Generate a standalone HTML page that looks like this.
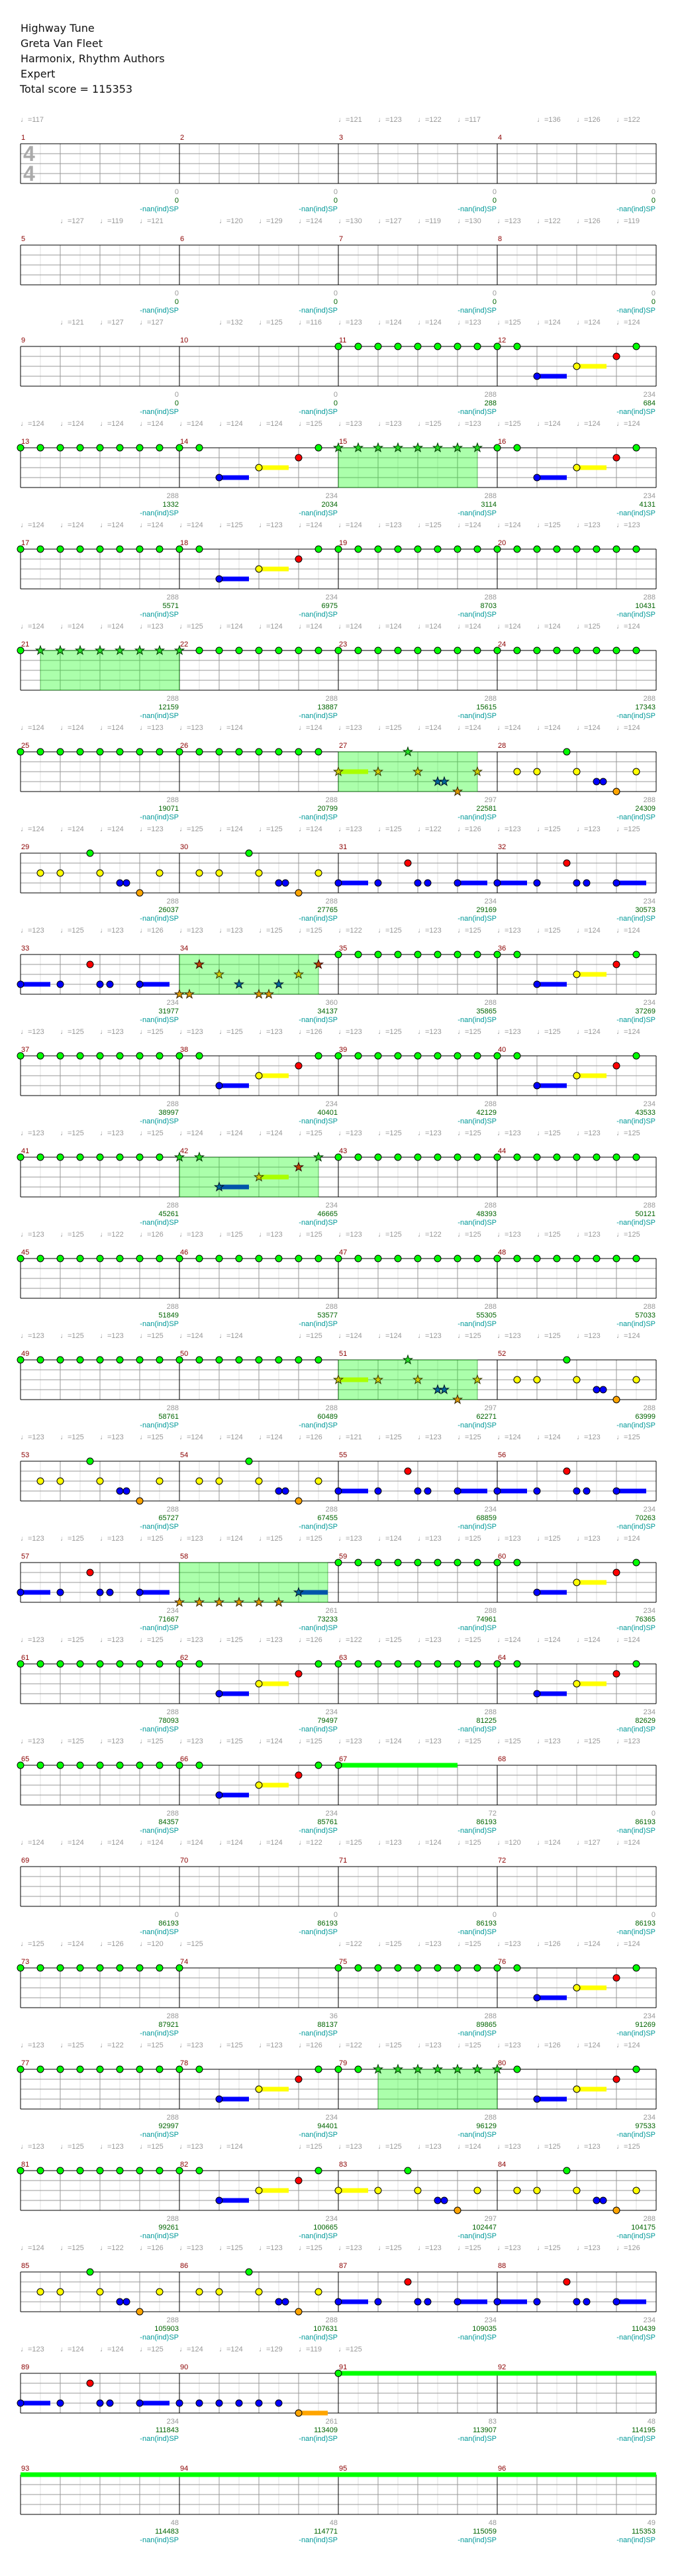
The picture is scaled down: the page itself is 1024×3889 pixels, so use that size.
<!DOCTYPE html>
<html><head><meta charset="utf-8"><style>
html,body{margin:0;padding:0;background:#fff}
svg{display:block}
.h{font:16px "DejaVu Sans","Liberation Sans",sans-serif;fill:#111}
.t{font:11px "Liberation Sans",sans-serif;fill:#999}
.m{font:11px "Liberation Sans",sans-serif;fill:#8b0000}
.l{font:11px "Liberation Sans",sans-serif;text-anchor:end}
.s1{fill:#999}.s2{fill:#006400}.s3{fill:#009999}
.sg{fill:#2d2;stroke:#030}.sy{fill:#cc0;stroke:#330}.sb{fill:#069;stroke:#012}.so{fill:#d90;stroke:#320}.sr{fill:#b40;stroke:#300}
.sp{fill:#0f0;fill-opacity:.33;stroke:#080;stroke-opacity:.5}
</style></head><body>
<svg width="1024" height="3889" viewBox="0 0 1024 3889" xmlns="http://www.w3.org/2000/svg">
<defs>
<g id="staff" shape-rendering="crispEdges" fill="none">
<path stroke="#e0e0e0" d="M61 0V60M121 0V60M181 0V60M241 0V60M301 0V60M361 0V60M421 0V60M481 0V60M541 0V60M601 0V60M661 0V60M721 0V60M781 0V60M841 0V60M901 0V60M961 0V60"/>
<path stroke="#999" d="M91 0V60M151 0V60M211 0V60M331 0V60M391 0V60M451 0V60M571 0V60M631 0V60M691 0V60M811 0V60M871 0V60M931 0V60M31 15H991M31 30H991M31 45H991"/>
<path stroke="#000" d="M31 0V60M271 0V60M511 0V60M751 0V60M991 0V60M31 0H991M31 60H991"/>
</g>
<circle id="ng" r="5" fill="#0f0" stroke="#000"/>
<circle id="nr" r="5" fill="#f00" stroke="#000"/>
<circle id="ny" r="5" fill="#ff0" stroke="#000"/>
<circle id="nb" r="5" fill="#00f" stroke="#000"/>
<circle id="no" r="5" fill="#ffa500" stroke="#000"/>
<path id="st" d="M0,-7L1.65,-2.27 6.66,-2.16 2.66,0.87 4.11,5.66 0,2.8 -4.11,5.66 -2.66,0.87 -6.66,-2.16 -1.65,-2.27Z"/>
<g id="A"><use href="#ng" x="0"/><use href="#ng" x="30"/><use href="#ng" x="60"/><use href="#ng" x="90"/><use href="#ng" x="120"/><use href="#ng" x="150"/><use href="#ng" x="180"/><use href="#ng" x="210"/></g>
<g id="Bx"><rect x="60" y="41.5" width="45" height="7" fill="#00f"/><rect x="120" y="26.5" width="45" height="7" fill="#ff0"/><use href="#ng" x="30"/><use href="#nb" x="60" y="45"/><use href="#ny" x="120" y="30"/><use href="#nr" x="180" y="15"/><use href="#ng" x="210"/></g>
<g id="B"><use href="#Bx"/><use href="#ng"/></g>
<g id="C"><use href="#ng" x="105"/><use href="#ny" x="30" y="30"/><use href="#ny" x="60" y="30"/><use href="#ny" x="120" y="30"/><use href="#ny" x="210" y="30"/><use href="#nb" x="150" y="45"/><use href="#nb" x="160" y="45"/><use href="#no" x="180" y="60"/></g>
<g id="C0"><rect x="0" y="26.5" width="45" height="7" fill="#ff0"/><use href="#ng" x="105"/><use href="#ny" x="0" y="30"/><use href="#ny" x="60" y="30"/><use href="#ny" x="120" y="30"/><use href="#ny" x="210" y="30"/><use href="#nb" x="150" y="45"/><use href="#nb" x="160" y="45"/><use href="#no" x="180" y="60"/></g>
<g id="D"><rect x="0" y="41.5" width="45" height="7" fill="#00f"/><rect x="180" y="41.5" width="45" height="7" fill="#00f"/><use href="#nb" x="0" y="45"/><use href="#nb" x="60" y="45"/><use href="#nb" x="120" y="45"/><use href="#nb" x="135" y="45"/><use href="#nb" x="180" y="45"/><use href="#nr" x="105" y="15"/></g>
<g id="S27"><rect class="sp" x="0" y="0" width="210" height="60"/><rect x="0" y="26.5" width="45" height="7" fill="#af0"/><use href="#st" class="sg" x="105" y="0"/><use href="#st" class="sy" x="0" y="30"/><use href="#st" class="sy" x="60" y="30"/><use href="#st" class="sy" x="120" y="30"/><use href="#st" class="sy" x="210" y="30"/><use href="#st" class="sb" x="150" y="45"/><use href="#st" class="sb" x="160" y="45"/><use href="#st" class="so" x="180" y="60"/></g>
</defs>

<text class="h" x="31" y="48">Highway Tune</text>
<text class="h" x="31" y="71">Greta Van Fleet</text>
<text class="h" x="31" y="94">Harmonix, Rhythm Authors</text>
<text class="h" x="31" y="117">Expert</text>
<text class="h" x="30" y="140">Total score = 115353</text>

<!-- Row 1 -->
<g transform="translate(0,217)"><use href="#staff"/>
<text x="35" y="26" font-family="Liberation Sans" font-weight="bold" font-size="32" fill="#aaa">4</text>
<text x="35" y="56" font-family="Liberation Sans" font-weight="bold" font-size="32" fill="#aaa">4</text>
<text class="t" y="-33"><tspan x="31">♩=117</tspan><tspan x="511">♩=121</tspan><tspan x="571">♩=123</tspan><tspan x="631">♩=122</tspan><tspan x="691">♩=117</tspan><tspan x="811">♩=136</tspan><tspan x="871">♩=126</tspan><tspan x="931">♩=122</tspan></text>
<text class="m" y="-6"><tspan x="32">1</tspan><tspan x="272">2</tspan><tspan x="512">3</tspan><tspan x="752">4</tspan></text>
<text class="l s1" y="76"><tspan x="270">0</tspan><tspan x="510">0</tspan><tspan x="750">0</tspan><tspan x="990">0</tspan></text>
<text class="l s2" y="89"><tspan x="270">0</tspan><tspan x="510">0</tspan><tspan x="750">0</tspan><tspan x="990">0</tspan></text>
<text class="l s3" y="102"><tspan x="270">-nan(ind)SP</tspan><tspan x="510">-nan(ind)SP</tspan><tspan x="750">-nan(ind)SP</tspan><tspan x="990">-nan(ind)SP</tspan></text>
</g>

<!-- Row 2 -->
<g transform="translate(0,370)"><use href="#staff"/>
<text class="t" y="-33"><tspan x="91">♩=127</tspan><tspan x="151">♩=119</tspan><tspan x="211">♩=121</tspan><tspan x="331">♩=120</tspan><tspan x="391">♩=129</tspan><tspan x="451">♩=124</tspan><tspan x="511">♩=130</tspan><tspan x="571">♩=127</tspan><tspan x="631">♩=119</tspan><tspan x="691">♩=130</tspan><tspan x="751">♩=123</tspan><tspan x="811">♩=122</tspan><tspan x="871">♩=126</tspan><tspan x="931">♩=119</tspan></text>
<text class="m" y="-6"><tspan x="32">5</tspan><tspan x="272">6</tspan><tspan x="512">7</tspan><tspan x="752">8</tspan></text>
<text class="l s1" y="76"><tspan x="270">0</tspan><tspan x="510">0</tspan><tspan x="750">0</tspan><tspan x="990">0</tspan></text>
<text class="l s2" y="89"><tspan x="270">0</tspan><tspan x="510">0</tspan><tspan x="750">0</tspan><tspan x="990">0</tspan></text>
<text class="l s3" y="102"><tspan x="270">-nan(ind)SP</tspan><tspan x="510">-nan(ind)SP</tspan><tspan x="750">-nan(ind)SP</tspan><tspan x="990">-nan(ind)SP</tspan></text>
</g>

<!-- Row 3 -->
<g transform="translate(0,523)"><use href="#staff"/>
<text class="t" y="-33"><tspan x="91">♩=121</tspan><tspan x="151">♩=127</tspan><tspan x="211">♩=127</tspan><tspan x="331">♩=132</tspan><tspan x="391">♩=125</tspan><tspan x="451">♩=116</tspan><tspan x="511">♩=123</tspan><tspan x="571">♩=124</tspan><tspan x="631">♩=124</tspan><tspan x="691">♩=123</tspan><tspan x="751">♩=125</tspan><tspan x="811">♩=124</tspan><tspan x="871">♩=124</tspan><tspan x="931">♩=124</tspan></text>
<text class="m" y="-6"><tspan x="32">9</tspan><tspan x="272">10</tspan><tspan x="512">11</tspan><tspan x="752">12</tspan></text>
<use href="#A" x="511"/><use href="#B" x="751"/>
<text class="l s1" y="76"><tspan x="270">0</tspan><tspan x="510">0</tspan><tspan x="750">288</tspan><tspan x="990">234</tspan></text>
<text class="l s2" y="89"><tspan x="270">0</tspan><tspan x="510">0</tspan><tspan x="750">288</tspan><tspan x="990">684</tspan></text>
<text class="l s3" y="102"><tspan x="270">-nan(ind)SP</tspan><tspan x="510">-nan(ind)SP</tspan><tspan x="750">-nan(ind)SP</tspan><tspan x="990">-nan(ind)SP</tspan></text>
</g>

<!-- Row 4 -->
<g transform="translate(0,676)"><use href="#staff"/>
<text class="t" y="-33"><tspan x="31">♩=124</tspan><tspan x="91">♩=124</tspan><tspan x="151">♩=124</tspan><tspan x="211">♩=124</tspan><tspan x="271">♩=124</tspan><tspan x="331">♩=124</tspan><tspan x="391">♩=124</tspan><tspan x="451">♩=125</tspan><tspan x="511">♩=123</tspan><tspan x="571">♩=123</tspan><tspan x="631">♩=125</tspan><tspan x="691">♩=123</tspan><tspan x="751">♩=125</tspan><tspan x="811">♩=124</tspan><tspan x="871">♩=124</tspan><tspan x="931">♩=124</tspan></text>
<text class="m" y="-6"><tspan x="32">13</tspan><tspan x="272">14</tspan><tspan x="512">15</tspan><tspan x="752">16</tspan></text>
<use href="#A" x="31"/><use href="#B" x="271"/>
<rect class="sp" x="511" y="0" width="210" height="60"/>
<use href="#st" class="sg" x="511"/><use href="#st" class="sg" x="541"/><use href="#st" class="sg" x="571"/><use href="#st" class="sg" x="601"/><use href="#st" class="sg" x="631"/><use href="#st" class="sg" x="661"/><use href="#st" class="sg" x="691"/><use href="#st" class="sg" x="721"/>
<use href="#B" x="751"/>
<text class="l s1" y="76"><tspan x="270">288</tspan><tspan x="510">234</tspan><tspan x="750">288</tspan><tspan x="990">234</tspan></text>
<text class="l s2" y="89"><tspan x="270">1332</tspan><tspan x="510">2034</tspan><tspan x="750">3114</tspan><tspan x="990">4131</tspan></text>
<text class="l s3" y="102"><tspan x="270">-nan(ind)SP</tspan><tspan x="510">-nan(ind)SP</tspan><tspan x="750">-nan(ind)SP</tspan><tspan x="990">-nan(ind)SP</tspan></text>
</g>

<!-- Row 5 -->
<g transform="translate(0,829)"><use href="#staff"/>
<text class="t" y="-33"><tspan x="31">♩=124</tspan><tspan x="91">♩=124</tspan><tspan x="151">♩=124</tspan><tspan x="211">♩=124</tspan><tspan x="271">♩=124</tspan><tspan x="331">♩=125</tspan><tspan x="391">♩=123</tspan><tspan x="451">♩=124</tspan><tspan x="511">♩=124</tspan><tspan x="571">♩=123</tspan><tspan x="631">♩=125</tspan><tspan x="691">♩=124</tspan><tspan x="751">♩=124</tspan><tspan x="811">♩=125</tspan><tspan x="871">♩=123</tspan><tspan x="931">♩=123</tspan></text>
<text class="m" y="-6"><tspan x="32">17</tspan><tspan x="272">18</tspan><tspan x="512">19</tspan><tspan x="752">20</tspan></text>
<use href="#A" x="31"/><use href="#B" x="271"/><use href="#A" x="511"/><use href="#A" x="751"/>
<text class="l s1" y="76"><tspan x="270">288</tspan><tspan x="510">234</tspan><tspan x="750">288</tspan><tspan x="990">288</tspan></text>
<text class="l s2" y="89"><tspan x="270">5571</tspan><tspan x="510">6975</tspan><tspan x="750">8703</tspan><tspan x="990">10431</tspan></text>
<text class="l s3" y="102"><tspan x="270">-nan(ind)SP</tspan><tspan x="510">-nan(ind)SP</tspan><tspan x="750">-nan(ind)SP</tspan><tspan x="990">-nan(ind)SP</tspan></text>
</g>

<!-- Row 6 -->
<g transform="translate(0,982)"><use href="#staff"/>
<text class="t" y="-33"><tspan x="31">♩=124</tspan><tspan x="91">♩=124</tspan><tspan x="151">♩=124</tspan><tspan x="211">♩=123</tspan><tspan x="271">♩=125</tspan><tspan x="331">♩=124</tspan><tspan x="391">♩=124</tspan><tspan x="451">♩=124</tspan><tspan x="511">♩=124</tspan><tspan x="571">♩=124</tspan><tspan x="631">♩=124</tspan><tspan x="691">♩=124</tspan><tspan x="751">♩=124</tspan><tspan x="811">♩=124</tspan><tspan x="871">♩=125</tspan><tspan x="931">♩=124</tspan></text>
<text class="m" y="-6"><tspan x="32">21</tspan><tspan x="272">22</tspan><tspan x="512">23</tspan><tspan x="752">24</tspan></text>
<use href="#ng" x="31"/>
<rect class="sp" x="61" y="0" width="210" height="60"/>
<use href="#st" class="sg" x="61"/><use href="#st" class="sg" x="91"/><use href="#st" class="sg" x="121"/><use href="#st" class="sg" x="151"/><use href="#st" class="sg" x="181"/><use href="#st" class="sg" x="211"/><use href="#st" class="sg" x="241"/><use href="#st" class="sg" x="271"/>
<use href="#ng" x="301"/><use href="#ng" x="331"/><use href="#ng" x="361"/><use href="#ng" x="391"/><use href="#ng" x="421"/><use href="#ng" x="451"/><use href="#ng" x="481"/>
<use href="#A" x="511"/><use href="#A" x="751"/>
<text class="l s1" y="76"><tspan x="270">288</tspan><tspan x="510">288</tspan><tspan x="750">288</tspan><tspan x="990">288</tspan></text>
<text class="l s2" y="89"><tspan x="270">12159</tspan><tspan x="510">13887</tspan><tspan x="750">15615</tspan><tspan x="990">17343</tspan></text>
<text class="l s3" y="102"><tspan x="270">-nan(ind)SP</tspan><tspan x="510">-nan(ind)SP</tspan><tspan x="750">-nan(ind)SP</tspan><tspan x="990">-nan(ind)SP</tspan></text>
</g>

<!-- Row 7 -->
<g transform="translate(0,1135)"><use href="#staff"/>
<text class="t" y="-33"><tspan x="31">♩=124</tspan><tspan x="91">♩=124</tspan><tspan x="151">♩=124</tspan><tspan x="211">♩=123</tspan><tspan x="271">♩=123</tspan><tspan x="331">♩=124</tspan><tspan x="451">♩=124</tspan><tspan x="511">♩=123</tspan><tspan x="571">♩=125</tspan><tspan x="631">♩=124</tspan><tspan x="691">♩=124</tspan><tspan x="751">♩=124</tspan><tspan x="811">♩=124</tspan><tspan x="871">♩=124</tspan><tspan x="931">♩=124</tspan></text>
<text class="m" y="-6"><tspan x="32">25</tspan><tspan x="272">26</tspan><tspan x="512">27</tspan><tspan x="752">28</tspan></text>
<use href="#A" x="31"/><use href="#A" x="271"/><use href="#S27" x="511"/><use href="#C" x="751"/>
<text class="l s1" y="76"><tspan x="270">288</tspan><tspan x="510">288</tspan><tspan x="750">297</tspan><tspan x="990">288</tspan></text>
<text class="l s2" y="89"><tspan x="270">19071</tspan><tspan x="510">20799</tspan><tspan x="750">22581</tspan><tspan x="990">24309</tspan></text>
<text class="l s3" y="102"><tspan x="270">-nan(ind)SP</tspan><tspan x="510">-nan(ind)SP</tspan><tspan x="750">-nan(ind)SP</tspan><tspan x="990">-nan(ind)SP</tspan></text>
</g>

<!-- Row 8 -->
<g transform="translate(0,1288)"><use href="#staff"/>
<text class="t" y="-33"><tspan x="31">♩=124</tspan><tspan x="91">♩=124</tspan><tspan x="151">♩=124</tspan><tspan x="211">♩=123</tspan><tspan x="271">♩=125</tspan><tspan x="331">♩=124</tspan><tspan x="391">♩=125</tspan><tspan x="451">♩=124</tspan><tspan x="511">♩=123</tspan><tspan x="571">♩=125</tspan><tspan x="631">♩=122</tspan><tspan x="691">♩=126</tspan><tspan x="751">♩=123</tspan><tspan x="811">♩=125</tspan><tspan x="871">♩=123</tspan><tspan x="931">♩=125</tspan></text>
<text class="m" y="-6"><tspan x="32">29</tspan><tspan x="272">30</tspan><tspan x="512">31</tspan><tspan x="752">32</tspan></text>
<use href="#C" x="31"/><use href="#C" x="271"/><use href="#D" x="511"/><use href="#D" x="751"/>
<text class="l s1" y="76"><tspan x="270">288</tspan><tspan x="510">288</tspan><tspan x="750">234</tspan><tspan x="990">234</tspan></text>
<text class="l s2" y="89"><tspan x="270">26037</tspan><tspan x="510">27765</tspan><tspan x="750">29169</tspan><tspan x="990">30573</tspan></text>
<text class="l s3" y="102"><tspan x="270">-nan(ind)SP</tspan><tspan x="510">-nan(ind)SP</tspan><tspan x="750">-nan(ind)SP</tspan><tspan x="990">-nan(ind)SP</tspan></text>
</g>

<!-- Row 9 -->
<g transform="translate(0,1441)"><use href="#staff"/>
<text class="t" y="-33"><tspan x="31">♩=123</tspan><tspan x="91">♩=125</tspan><tspan x="151">♩=123</tspan><tspan x="211">♩=126</tspan><tspan x="271">♩=123</tspan><tspan x="331">♩=123</tspan><tspan x="391">♩=125</tspan><tspan x="451">♩=125</tspan><tspan x="511">♩=122</tspan><tspan x="571">♩=125</tspan><tspan x="631">♩=123</tspan><tspan x="691">♩=125</tspan><tspan x="751">♩=123</tspan><tspan x="811">♩=125</tspan><tspan x="871">♩=124</tspan><tspan x="931">♩=124</tspan></text>
<text class="m" y="-6"><tspan x="32">33</tspan><tspan x="272">34</tspan><tspan x="512">35</tspan><tspan x="752">36</tspan></text>
<use href="#D" x="31"/>
<rect class="sp" x="271" y="0" width="210" height="60"/>
<use href="#st" class="sr" x="301" y="15"/><use href="#st" class="sy" x="331" y="30"/><use href="#st" class="sb" x="361" y="45"/><use href="#st" class="sb" x="421" y="45"/><use href="#st" class="sy" x="451" y="30"/><use href="#st" class="sr" x="481" y="15"/>
<use href="#st" class="so" x="271" y="60"/><use href="#st" class="so" x="286" y="60"/><use href="#st" class="so" x="391" y="60"/><use href="#st" class="so" x="406" y="60"/>
<use href="#A" x="511"/><use href="#B" x="751"/>
<text class="l s1" y="76"><tspan x="270">234</tspan><tspan x="510">360</tspan><tspan x="750">288</tspan><tspan x="990">234</tspan></text>
<text class="l s2" y="89"><tspan x="270">31977</tspan><tspan x="510">34137</tspan><tspan x="750">35865</tspan><tspan x="990">37269</tspan></text>
<text class="l s3" y="102"><tspan x="270">-nan(ind)SP</tspan><tspan x="510">-nan(ind)SP</tspan><tspan x="750">-nan(ind)SP</tspan><tspan x="990">-nan(ind)SP</tspan></text>
</g>

<!-- Row 10 -->
<g transform="translate(0,1594)"><use href="#staff"/>
<text class="t" y="-33"><tspan x="31">♩=123</tspan><tspan x="91">♩=125</tspan><tspan x="151">♩=123</tspan><tspan x="211">♩=125</tspan><tspan x="271">♩=123</tspan><tspan x="331">♩=125</tspan><tspan x="391">♩=123</tspan><tspan x="451">♩=126</tspan><tspan x="511">♩=123</tspan><tspan x="571">♩=125</tspan><tspan x="631">♩=123</tspan><tspan x="691">♩=125</tspan><tspan x="751">♩=123</tspan><tspan x="811">♩=125</tspan><tspan x="871">♩=124</tspan><tspan x="931">♩=124</tspan></text>
<text class="m" y="-6"><tspan x="32">37</tspan><tspan x="272">38</tspan><tspan x="512">39</tspan><tspan x="752">40</tspan></text>
<use href="#A" x="31"/><use href="#B" x="271"/><use href="#A" x="511"/><use href="#B" x="751"/>
<text class="l s1" y="76"><tspan x="270">288</tspan><tspan x="510">234</tspan><tspan x="750">288</tspan><tspan x="990">234</tspan></text>
<text class="l s2" y="89"><tspan x="270">38997</tspan><tspan x="510">40401</tspan><tspan x="750">42129</tspan><tspan x="990">43533</tspan></text>
<text class="l s3" y="102"><tspan x="270">-nan(ind)SP</tspan><tspan x="510">-nan(ind)SP</tspan><tspan x="750">-nan(ind)SP</tspan><tspan x="990">-nan(ind)SP</tspan></text>
</g>

<!-- Row 11 -->
<g transform="translate(0,1747)"><use href="#staff"/>
<text class="t" y="-33"><tspan x="31">♩=123</tspan><tspan x="91">♩=125</tspan><tspan x="151">♩=123</tspan><tspan x="211">♩=125</tspan><tspan x="271">♩=124</tspan><tspan x="331">♩=124</tspan><tspan x="391">♩=124</tspan><tspan x="451">♩=125</tspan><tspan x="511">♩=123</tspan><tspan x="571">♩=125</tspan><tspan x="631">♩=123</tspan><tspan x="691">♩=125</tspan><tspan x="751">♩=123</tspan><tspan x="811">♩=125</tspan><tspan x="871">♩=123</tspan><tspan x="931">♩=125</tspan></text>
<text class="m" y="-6"><tspan x="32">41</tspan><tspan x="272">42</tspan><tspan x="512">43</tspan><tspan x="752">44</tspan></text>
<use href="#A" x="31"/>
<rect class="sp" x="271" y="0" width="210" height="60"/>
<rect x="331" y="41.5" width="45" height="7" fill="#05a"/><rect x="391" y="26.5" width="45" height="7" fill="#af0"/>
<use href="#st" class="sg" x="271"/><use href="#st" class="sg" x="301"/><use href="#st" class="sg" x="481"/><use href="#st" class="sr" x="451" y="15"/><use href="#st" class="sy" x="391" y="30"/><use href="#st" class="sb" x="331" y="45"/>
<use href="#A" x="511"/><use href="#A" x="751"/>
<text class="l s1" y="76"><tspan x="270">288</tspan><tspan x="510">234</tspan><tspan x="750">288</tspan><tspan x="990">288</tspan></text>
<text class="l s2" y="89"><tspan x="270">45261</tspan><tspan x="510">46665</tspan><tspan x="750">48393</tspan><tspan x="990">50121</tspan></text>
<text class="l s3" y="102"><tspan x="270">-nan(ind)SP</tspan><tspan x="510">-nan(ind)SP</tspan><tspan x="750">-nan(ind)SP</tspan><tspan x="990">-nan(ind)SP</tspan></text>
</g>

<!-- Row 12 -->
<g transform="translate(0,1900)"><use href="#staff"/>
<text class="t" y="-33"><tspan x="31">♩=123</tspan><tspan x="91">♩=125</tspan><tspan x="151">♩=122</tspan><tspan x="211">♩=126</tspan><tspan x="271">♩=123</tspan><tspan x="331">♩=125</tspan><tspan x="391">♩=123</tspan><tspan x="451">♩=125</tspan><tspan x="511">♩=123</tspan><tspan x="571">♩=125</tspan><tspan x="631">♩=122</tspan><tspan x="691">♩=125</tspan><tspan x="751">♩=123</tspan><tspan x="811">♩=125</tspan><tspan x="871">♩=123</tspan><tspan x="931">♩=125</tspan></text>
<text class="m" y="-6"><tspan x="32">45</tspan><tspan x="272">46</tspan><tspan x="512">47</tspan><tspan x="752">48</tspan></text>
<use href="#A" x="31"/><use href="#A" x="271"/><use href="#A" x="511"/><use href="#A" x="751"/>
<text class="l s1" y="76"><tspan x="270">288</tspan><tspan x="510">288</tspan><tspan x="750">288</tspan><tspan x="990">288</tspan></text>
<text class="l s2" y="89"><tspan x="270">51849</tspan><tspan x="510">53577</tspan><tspan x="750">55305</tspan><tspan x="990">57033</tspan></text>
<text class="l s3" y="102"><tspan x="270">-nan(ind)SP</tspan><tspan x="510">-nan(ind)SP</tspan><tspan x="750">-nan(ind)SP</tspan><tspan x="990">-nan(ind)SP</tspan></text>
</g>

<!-- Row 13 -->
<g transform="translate(0,2053)"><use href="#staff"/>
<text class="t" y="-33"><tspan x="31">♩=123</tspan><tspan x="91">♩=125</tspan><tspan x="151">♩=123</tspan><tspan x="211">♩=125</tspan><tspan x="271">♩=124</tspan><tspan x="331">♩=124</tspan><tspan x="451">♩=125</tspan><tspan x="511">♩=124</tspan><tspan x="571">♩=124</tspan><tspan x="631">♩=123</tspan><tspan x="691">♩=125</tspan><tspan x="751">♩=123</tspan><tspan x="811">♩=125</tspan><tspan x="871">♩=123</tspan><tspan x="931">♩=124</tspan></text>
<text class="m" y="-6"><tspan x="32">49</tspan><tspan x="272">50</tspan><tspan x="512">51</tspan><tspan x="752">52</tspan></text>
<use href="#A" x="31"/><use href="#A" x="271"/><use href="#S27" x="511"/><use href="#C" x="751"/>
<text class="l s1" y="76"><tspan x="270">288</tspan><tspan x="510">288</tspan><tspan x="750">297</tspan><tspan x="990">288</tspan></text>
<text class="l s2" y="89"><tspan x="270">58761</tspan><tspan x="510">60489</tspan><tspan x="750">62271</tspan><tspan x="990">63999</tspan></text>
<text class="l s3" y="102"><tspan x="270">-nan(ind)SP</tspan><tspan x="510">-nan(ind)SP</tspan><tspan x="750">-nan(ind)SP</tspan><tspan x="990">-nan(ind)SP</tspan></text>
</g>

<!-- Row 14 -->
<g transform="translate(0,2206)"><use href="#staff"/>
<text class="t" y="-33"><tspan x="31">♩=123</tspan><tspan x="91">♩=125</tspan><tspan x="151">♩=123</tspan><tspan x="211">♩=125</tspan><tspan x="271">♩=124</tspan><tspan x="331">♩=124</tspan><tspan x="391">♩=124</tspan><tspan x="451">♩=126</tspan><tspan x="511">♩=121</tspan><tspan x="571">♩=125</tspan><tspan x="631">♩=123</tspan><tspan x="691">♩=125</tspan><tspan x="751">♩=124</tspan><tspan x="811">♩=124</tspan><tspan x="871">♩=123</tspan><tspan x="931">♩=125</tspan></text>
<text class="m" y="-6"><tspan x="32">53</tspan><tspan x="272">54</tspan><tspan x="512">55</tspan><tspan x="752">56</tspan></text>
<use href="#C" x="31"/><use href="#C" x="271"/><use href="#D" x="511"/><use href="#D" x="751"/>
<text class="l s1" y="76"><tspan x="270">288</tspan><tspan x="510">288</tspan><tspan x="750">234</tspan><tspan x="990">234</tspan></text>
<text class="l s2" y="89"><tspan x="270">65727</tspan><tspan x="510">67455</tspan><tspan x="750">68859</tspan><tspan x="990">70263</tspan></text>
<text class="l s3" y="102"><tspan x="270">-nan(ind)SP</tspan><tspan x="510">-nan(ind)SP</tspan><tspan x="750">-nan(ind)SP</tspan><tspan x="990">-nan(ind)SP</tspan></text>
</g>

<!-- Row 15 -->
<g transform="translate(0,2359)"><use href="#staff"/>
<text class="t" y="-33"><tspan x="31">♩=123</tspan><tspan x="91">♩=125</tspan><tspan x="151">♩=123</tspan><tspan x="211">♩=125</tspan><tspan x="271">♩=123</tspan><tspan x="331">♩=124</tspan><tspan x="391">♩=125</tspan><tspan x="451">♩=125</tspan><tspan x="511">♩=123</tspan><tspan x="571">♩=124</tspan><tspan x="631">♩=123</tspan><tspan x="691">♩=125</tspan><tspan x="751">♩=123</tspan><tspan x="811">♩=125</tspan><tspan x="871">♩=123</tspan><tspan x="931">♩=124</tspan></text>
<text class="m" y="-6"><tspan x="32">57</tspan><tspan x="272">58</tspan><tspan x="512">59</tspan><tspan x="752">60</tspan></text>
<use href="#D" x="31"/>
<rect class="sp" x="271" y="0" width="224" height="60"/>
<rect x="451" y="41.5" width="44" height="7" fill="#05a"/>
<use href="#st" class="so" x="271" y="60"/><use href="#st" class="so" x="301" y="60"/><use href="#st" class="so" x="331" y="60"/><use href="#st" class="so" x="361" y="60"/><use href="#st" class="so" x="391" y="60"/><use href="#st" class="so" x="421" y="60"/><use href="#st" class="sb" x="451" y="45"/>
<use href="#A" x="511"/><use href="#B" x="751"/>
<text class="l s1" y="76"><tspan x="270">234</tspan><tspan x="510">261</tspan><tspan x="750">288</tspan><tspan x="990">234</tspan></text>
<text class="l s2" y="89"><tspan x="270">71667</tspan><tspan x="510">73233</tspan><tspan x="750">74961</tspan><tspan x="990">76365</tspan></text>
<text class="l s3" y="102"><tspan x="270">-nan(ind)SP</tspan><tspan x="510">-nan(ind)SP</tspan><tspan x="750">-nan(ind)SP</tspan><tspan x="990">-nan(ind)SP</tspan></text>
</g>

<!-- Row 16 -->
<g transform="translate(0,2512)"><use href="#staff"/>
<text class="t" y="-33"><tspan x="31">♩=123</tspan><tspan x="91">♩=125</tspan><tspan x="151">♩=123</tspan><tspan x="211">♩=125</tspan><tspan x="271">♩=123</tspan><tspan x="331">♩=125</tspan><tspan x="391">♩=123</tspan><tspan x="451">♩=126</tspan><tspan x="511">♩=122</tspan><tspan x="571">♩=125</tspan><tspan x="631">♩=123</tspan><tspan x="691">♩=125</tspan><tspan x="751">♩=124</tspan><tspan x="811">♩=124</tspan><tspan x="871">♩=124</tspan><tspan x="931">♩=124</tspan></text>
<text class="m" y="-6"><tspan x="32">61</tspan><tspan x="272">62</tspan><tspan x="512">63</tspan><tspan x="752">64</tspan></text>
<use href="#A" x="31"/><use href="#B" x="271"/><use href="#A" x="511"/><use href="#B" x="751"/>
<text class="l s1" y="76"><tspan x="270">288</tspan><tspan x="510">234</tspan><tspan x="750">288</tspan><tspan x="990">234</tspan></text>
<text class="l s2" y="89"><tspan x="270">78093</tspan><tspan x="510">79497</tspan><tspan x="750">81225</tspan><tspan x="990">82629</tspan></text>
<text class="l s3" y="102"><tspan x="270">-nan(ind)SP</tspan><tspan x="510">-nan(ind)SP</tspan><tspan x="750">-nan(ind)SP</tspan><tspan x="990">-nan(ind)SP</tspan></text>
</g>

<!-- Row 17 -->
<g transform="translate(0,2665)"><use href="#staff"/>
<text class="t" y="-33"><tspan x="31">♩=123</tspan><tspan x="91">♩=125</tspan><tspan x="151">♩=123</tspan><tspan x="211">♩=125</tspan><tspan x="271">♩=123</tspan><tspan x="331">♩=125</tspan><tspan x="391">♩=124</tspan><tspan x="451">♩=125</tspan><tspan x="511">♩=123</tspan><tspan x="571">♩=124</tspan><tspan x="631">♩=123</tspan><tspan x="691">♩=125</tspan><tspan x="751">♩=125</tspan><tspan x="811">♩=123</tspan><tspan x="871">♩=125</tspan><tspan x="931">♩=123</tspan></text>
<text class="m" y="-6"><tspan x="32">65</tspan><tspan x="272">66</tspan><tspan x="512">67</tspan><tspan x="752">68</tspan></text>
<use href="#A" x="31"/><use href="#B" x="271"/>
<rect x="511" y="-3.5" width="180" height="7" fill="#0f0"/><use href="#ng" x="511"/>
<text class="l s1" y="76"><tspan x="270">288</tspan><tspan x="510">234</tspan><tspan x="750">72</tspan><tspan x="990">0</tspan></text>
<text class="l s2" y="89"><tspan x="270">84357</tspan><tspan x="510">85761</tspan><tspan x="750">86193</tspan><tspan x="990">86193</tspan></text>
<text class="l s3" y="102"><tspan x="270">-nan(ind)SP</tspan><tspan x="510">-nan(ind)SP</tspan><tspan x="750">-nan(ind)SP</tspan><tspan x="990">-nan(ind)SP</tspan></text>
</g>

<!-- Row 18 -->
<g transform="translate(0,2818)"><use href="#staff"/>
<text class="t" y="-33"><tspan x="31">♩=124</tspan><tspan x="91">♩=124</tspan><tspan x="151">♩=124</tspan><tspan x="211">♩=124</tspan><tspan x="271">♩=124</tspan><tspan x="331">♩=124</tspan><tspan x="391">♩=124</tspan><tspan x="451">♩=122</tspan><tspan x="511">♩=125</tspan><tspan x="571">♩=123</tspan><tspan x="631">♩=124</tspan><tspan x="691">♩=125</tspan><tspan x="751">♩=120</tspan><tspan x="811">♩=124</tspan><tspan x="871">♩=127</tspan><tspan x="931">♩=124</tspan></text>
<text class="m" y="-6"><tspan x="32">69</tspan><tspan x="272">70</tspan><tspan x="512">71</tspan><tspan x="752">72</tspan></text>
<text class="l s1" y="76"><tspan x="270">0</tspan><tspan x="510">0</tspan><tspan x="750">0</tspan><tspan x="990">0</tspan></text>
<text class="l s2" y="89"><tspan x="270">86193</tspan><tspan x="510">86193</tspan><tspan x="750">86193</tspan><tspan x="990">86193</tspan></text>
<text class="l s3" y="102"><tspan x="270">-nan(ind)SP</tspan><tspan x="510">-nan(ind)SP</tspan><tspan x="750">-nan(ind)SP</tspan><tspan x="990">-nan(ind)SP</tspan></text>
</g>

<!-- Row 19 -->
<g transform="translate(0,2971)"><use href="#staff"/>
<text class="t" y="-33"><tspan x="31">♩=125</tspan><tspan x="91">♩=124</tspan><tspan x="151">♩=126</tspan><tspan x="211">♩=120</tspan><tspan x="271">♩=125</tspan><tspan x="511">♩=122</tspan><tspan x="571">♩=125</tspan><tspan x="631">♩=123</tspan><tspan x="691">♩=125</tspan><tspan x="751">♩=123</tspan><tspan x="811">♩=126</tspan><tspan x="871">♩=124</tspan><tspan x="931">♩=124</tspan></text>
<text class="m" y="-6"><tspan x="32">73</tspan><tspan x="272">74</tspan><tspan x="512">75</tspan><tspan x="752">76</tspan></text>
<use href="#A" x="31"/><use href="#ng" x="271"/><use href="#A" x="511"/><use href="#B" x="751"/>
<text class="l s1" y="76"><tspan x="270">288</tspan><tspan x="510">36</tspan><tspan x="750">288</tspan><tspan x="990">234</tspan></text>
<text class="l s2" y="89"><tspan x="270">87921</tspan><tspan x="510">88137</tspan><tspan x="750">89865</tspan><tspan x="990">91269</tspan></text>
<text class="l s3" y="102"><tspan x="270">-nan(ind)SP</tspan><tspan x="510">-nan(ind)SP</tspan><tspan x="750">-nan(ind)SP</tspan><tspan x="990">-nan(ind)SP</tspan></text>
</g>

<!-- Row 20 -->
<g transform="translate(0,3124)"><use href="#staff"/>
<text class="t" y="-33"><tspan x="31">♩=123</tspan><tspan x="91">♩=125</tspan><tspan x="151">♩=122</tspan><tspan x="211">♩=125</tspan><tspan x="271">♩=123</tspan><tspan x="331">♩=125</tspan><tspan x="391">♩=123</tspan><tspan x="451">♩=126</tspan><tspan x="511">♩=122</tspan><tspan x="571">♩=125</tspan><tspan x="631">♩=123</tspan><tspan x="691">♩=125</tspan><tspan x="751">♩=123</tspan><tspan x="811">♩=126</tspan><tspan x="871">♩=124</tspan><tspan x="931">♩=124</tspan></text>
<text class="m" y="-6"><tspan x="32">77</tspan><tspan x="272">78</tspan><tspan x="512">79</tspan><tspan x="752">80</tspan></text>
<use href="#A" x="31"/><use href="#B" x="271"/>
<use href="#ng" x="511"/><use href="#ng" x="541"/>
<rect class="sp" x="571" y="0" width="180" height="60"/>
<use href="#st" class="sg" x="571"/><use href="#st" class="sg" x="601"/><use href="#st" class="sg" x="631"/><use href="#st" class="sg" x="661"/><use href="#st" class="sg" x="691"/><use href="#st" class="sg" x="721"/><use href="#st" class="sg" x="751"/>
<use href="#Bx" x="751"/>
<text class="l s1" y="76"><tspan x="270">288</tspan><tspan x="510">234</tspan><tspan x="750">288</tspan><tspan x="990">234</tspan></text>
<text class="l s2" y="89"><tspan x="270">92997</tspan><tspan x="510">94401</tspan><tspan x="750">96129</tspan><tspan x="990">97533</tspan></text>
<text class="l s3" y="102"><tspan x="270">-nan(ind)SP</tspan><tspan x="510">-nan(ind)SP</tspan><tspan x="750">-nan(ind)SP</tspan><tspan x="990">-nan(ind)SP</tspan></text>
</g>

<!-- Row 21 -->
<g transform="translate(0,3277)"><use href="#staff"/>
<text class="t" y="-33"><tspan x="31">♩=123</tspan><tspan x="91">♩=125</tspan><tspan x="151">♩=123</tspan><tspan x="211">♩=125</tspan><tspan x="271">♩=123</tspan><tspan x="331">♩=124</tspan><tspan x="451">♩=125</tspan><tspan x="511">♩=123</tspan><tspan x="571">♩=125</tspan><tspan x="631">♩=123</tspan><tspan x="691">♩=124</tspan><tspan x="751">♩=123</tspan><tspan x="811">♩=125</tspan><tspan x="871">♩=123</tspan><tspan x="931">♩=125</tspan></text>
<text class="m" y="-6"><tspan x="32">81</tspan><tspan x="272">82</tspan><tspan x="512">83</tspan><tspan x="752">84</tspan></text>
<use href="#A" x="31"/><use href="#B" x="271"/><use href="#C0" x="511"/><use href="#C" x="751"/>
<text class="l s1" y="76"><tspan x="270">288</tspan><tspan x="510">234</tspan><tspan x="750">297</tspan><tspan x="990">288</tspan></text>
<text class="l s2" y="89"><tspan x="270">99261</tspan><tspan x="510">100665</tspan><tspan x="750">102447</tspan><tspan x="990">104175</tspan></text>
<text class="l s3" y="102"><tspan x="270">-nan(ind)SP</tspan><tspan x="510">-nan(ind)SP</tspan><tspan x="750">-nan(ind)SP</tspan><tspan x="990">-nan(ind)SP</tspan></text>
</g>

<!-- Row 22 -->
<g transform="translate(0,3430)"><use href="#staff"/>
<text class="t" y="-33"><tspan x="31">♩=124</tspan><tspan x="91">♩=125</tspan><tspan x="151">♩=122</tspan><tspan x="211">♩=126</tspan><tspan x="271">♩=123</tspan><tspan x="331">♩=125</tspan><tspan x="391">♩=123</tspan><tspan x="451">♩=125</tspan><tspan x="511">♩=123</tspan><tspan x="571">♩=125</tspan><tspan x="631">♩=123</tspan><tspan x="691">♩=125</tspan><tspan x="751">♩=123</tspan><tspan x="811">♩=125</tspan><tspan x="871">♩=123</tspan><tspan x="931">♩=126</tspan></text>
<text class="m" y="-6"><tspan x="32">85</tspan><tspan x="272">86</tspan><tspan x="512">87</tspan><tspan x="752">88</tspan></text>
<use href="#C" x="31"/><use href="#C" x="271"/><use href="#D" x="511"/><use href="#D" x="751"/>
<text class="l s1" y="76"><tspan x="270">288</tspan><tspan x="510">288</tspan><tspan x="750">234</tspan><tspan x="990">234</tspan></text>
<text class="l s2" y="89"><tspan x="270">105903</tspan><tspan x="510">107631</tspan><tspan x="750">109035</tspan><tspan x="990">110439</tspan></text>
<text class="l s3" y="102"><tspan x="270">-nan(ind)SP</tspan><tspan x="510">-nan(ind)SP</tspan><tspan x="750">-nan(ind)SP</tspan><tspan x="990">-nan(ind)SP</tspan></text>
</g>

<!-- Row 23 -->
<g transform="translate(0,3583)"><use href="#staff"/>
<text class="t" y="-33"><tspan x="31">♩=123</tspan><tspan x="91">♩=124</tspan><tspan x="151">♩=124</tspan><tspan x="211">♩=125</tspan><tspan x="271">♩=124</tspan><tspan x="331">♩=124</tspan><tspan x="391">♩=129</tspan><tspan x="451">♩=119</tspan><tspan x="511">♩=125</tspan></text>
<text class="m" y="-6"><tspan x="32">89</tspan><tspan x="272">90</tspan><tspan x="512">91</tspan><tspan x="752">92</tspan></text>
<use href="#D" x="31"/>
<use href="#nb" x="271" y="45"/><use href="#nb" x="301" y="45"/><use href="#nb" x="331" y="45"/><use href="#nb" x="361" y="45"/><use href="#nb" x="391" y="45"/><use href="#nb" x="421" y="45"/>
<rect x="451" y="56.5" width="44" height="7" fill="#ffa500"/><use href="#no" x="451" y="60"/>
<rect x="511" y="-3.5" width="480" height="7" fill="#0f0"/><use href="#ng" x="511"/>
<text class="l s1" y="76"><tspan x="270">234</tspan><tspan x="510">261</tspan><tspan x="750">83</tspan><tspan x="990">48</tspan></text>
<text class="l s2" y="89"><tspan x="270">111843</tspan><tspan x="510">113409</tspan><tspan x="750">113907</tspan><tspan x="990">114195</tspan></text>
<text class="l s3" y="102"><tspan x="270">-nan(ind)SP</tspan><tspan x="510">-nan(ind)SP</tspan><tspan x="750">-nan(ind)SP</tspan><tspan x="990">-nan(ind)SP</tspan></text>
</g>

<!-- Row 24 -->
<g transform="translate(0,3736)"><use href="#staff"/>
<text class="m" y="-6"><tspan x="32">93</tspan><tspan x="272">94</tspan><tspan x="512">95</tspan><tspan x="752">96</tspan></text>
<rect x="31" y="-3.5" width="960" height="7" fill="#0f0"/>
<text class="l s1" y="76"><tspan x="270">48</tspan><tspan x="510">48</tspan><tspan x="750">48</tspan><tspan x="990">49</tspan></text>
<text class="l s2" y="89"><tspan x="270">114483</tspan><tspan x="510">114771</tspan><tspan x="750">115059</tspan><tspan x="990">115353</tspan></text>
<text class="l s3" y="102"><tspan x="270">-nan(ind)SP</tspan><tspan x="510">-nan(ind)SP</tspan><tspan x="750">-nan(ind)SP</tspan><tspan x="990">-nan(ind)SP</tspan></text>
</g>
</svg>
</body></html>
